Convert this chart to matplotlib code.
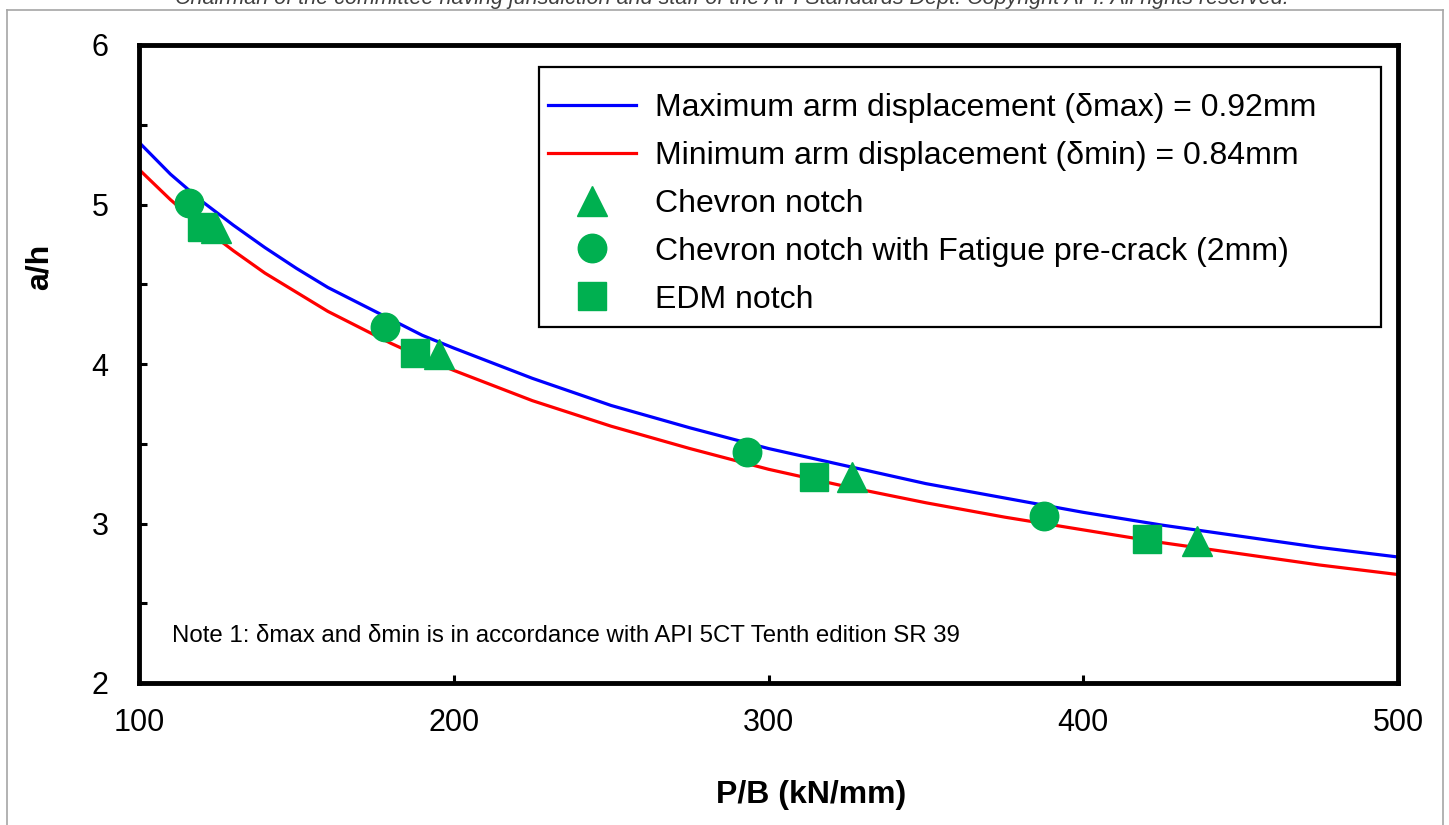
import matplotlib.pyplot as plt
from matplotlib.lines import Line2D
from matplotlib.patches import Rectangle
from matplotlib.ticker import MultipleLocator

plt.rcParams['font.family'] = ['Liberation Sans', 'DejaVu Sans']

OUTPUT = 'out.png'
W, H = 1449, 825

# curves
pb_curve = [100, 110, 120, 130, 140, 150, 160, 170, 180, 190, 200,
            225, 250, 275, 300, 325, 350, 375, 400, 425, 450, 475, 500]
ah_max = [5.39, 5.19, 5.02, 4.87, 4.73, 4.60, 4.48, 4.38, 4.28, 4.18, 4.10,
          3.91, 3.74, 3.60, 3.47, 3.36, 3.25, 3.16, 3.07, 2.99, 2.92, 2.85, 2.79]
ah_min = [5.22, 5.03, 4.86, 4.71, 4.57, 4.45, 4.33, 4.23, 4.13, 4.04, 3.96,
          3.77, 3.61, 3.47, 3.34, 3.23, 3.13, 3.04, 2.96, 2.88, 2.81, 2.74, 2.68]

# test points
chevron_pb = [124.5, 195.4, 326.6, 436.0]
chevron_ah = [4.85, 4.06, 3.29, 2.89]
fatigue_pb = [115.8, 178.2, 293.3, 387.5]
fatigue_ah = [5.01, 4.23, 3.45, 3.05]
edm_pb = [120.0, 187.7, 314.5, 420.2]
edm_ah = [4.86, 4.07, 3.29, 2.90]

GREEN = '#00B050'


def main():
    fig = plt.figure(figsize=(W / 100, H / 100), dpi=100)
    ax = fig.add_axes([139 / W, 1 - 683 / H, 1259 / W, 638 / H])

    ax.plot(pb_curve, ah_max, color='#0000FF', lw=2.3,
            solid_joinstyle='round',
            label='Maximum arm displacement (δmax) = 0.92mm', zorder=2)
    ax.plot(pb_curve, ah_min, color='#FF0000', lw=2.3,
            solid_joinstyle='round',
            label='Minimum arm displacement (δmin) = 0.84mm', zorder=2)
    ax.plot(chevron_pb, chevron_ah, ls='none', marker='^', ms=21,
            color=GREEN, mec=GREEN, label='Chevron notch', zorder=3)
    ax.plot(fatigue_pb, fatigue_ah, ls='none', marker='o', ms=20.5,
            color=GREEN, mec=GREEN,
            label='Chevron notch with Fatigue pre-crack (2mm)', zorder=3)
    ax.plot(edm_pb, edm_ah, ls='none', marker='s', ms=19.5,
            color=GREEN, mec=GREEN, label='EDM notch', zorder=3)

    ax.set_xlim(100, 500)
    ax.set_ylim(2, 6)
    ax.xaxis.set_major_locator(MultipleLocator(100))
    ax.yaxis.set_major_locator(MultipleLocator(1))
    ax.yaxis.set_minor_locator(MultipleLocator(0.5))
    ax.tick_params(which='both', direction='in', length=6, width=2.2,
                   top=False, right=False, labelsize=22, colors='black')
    ax.tick_params(axis='x', pad=18)
    ax.tick_params(axis='y', pad=22)
    for spine in ax.spines.values():
        spine.set_linewidth(3.5)

    # legend frame is wider than its content, as in the original
    fig.add_artist(Rectangle((539 / W, 1 - 327 / H), 842 / W, 260 / H,
                             transform=fig.transFigure, fill=True,
                             facecolor='white', edgecolor='black', lw=1.6,
                             zorder=4))
    leg = fig.legend(*ax.get_legend_handles_labels(), loc='upper left',
                     bbox_to_anchor=(548 / W, 1 - 93 / H), fontsize=23,
                     frameon=False, handlelength=2.75, handletextpad=0.6,
                     labelspacing=0.56, borderpad=0, borderaxespad=0)
    leg.set_zorder(5)

    ax.text(110.5, 2.295,
            'Note 1: δmax and δmin is in accordance with API 5CT Tenth edition SR 39',
            fontsize=17.3, ha='left', va='center')

    fig.text(0.0276, 0.676, 'a/h', rotation=90, fontsize=23,
             fontweight='bold', ha='center', va='center')
    fig.text(0.5597, 0.0364, 'P/B (kN/mm)', fontsize=23,
             fontweight='bold', ha='center', va='center')

    fig.text(732 / W, 1 - 4 / H,
             'Chairman of the committee having jurisdiction and staff of the '
             'API Standards Dept. Copyright API. All rights reserved.',
             fontsize=15.5, style='italic', color='#404040',
             ha='center', va='baseline')

    # outer page border
    bx0, bx1, by1 = 7 / W, 1443 / W, 1 - 10 / H
    for xs, ys in [([bx0, bx0], [0, by1]), ([bx0, bx1], [by1, by1]),
                   ([bx1, bx1], [by1, 0])]:
        fig.add_artist(Line2D(xs, ys, transform=fig.transFigure,
                              color='#a6a6a6', lw=1.2))

    fig.savefig(OUTPUT, dpi=100)


if __name__ == '__main__':
    main()
